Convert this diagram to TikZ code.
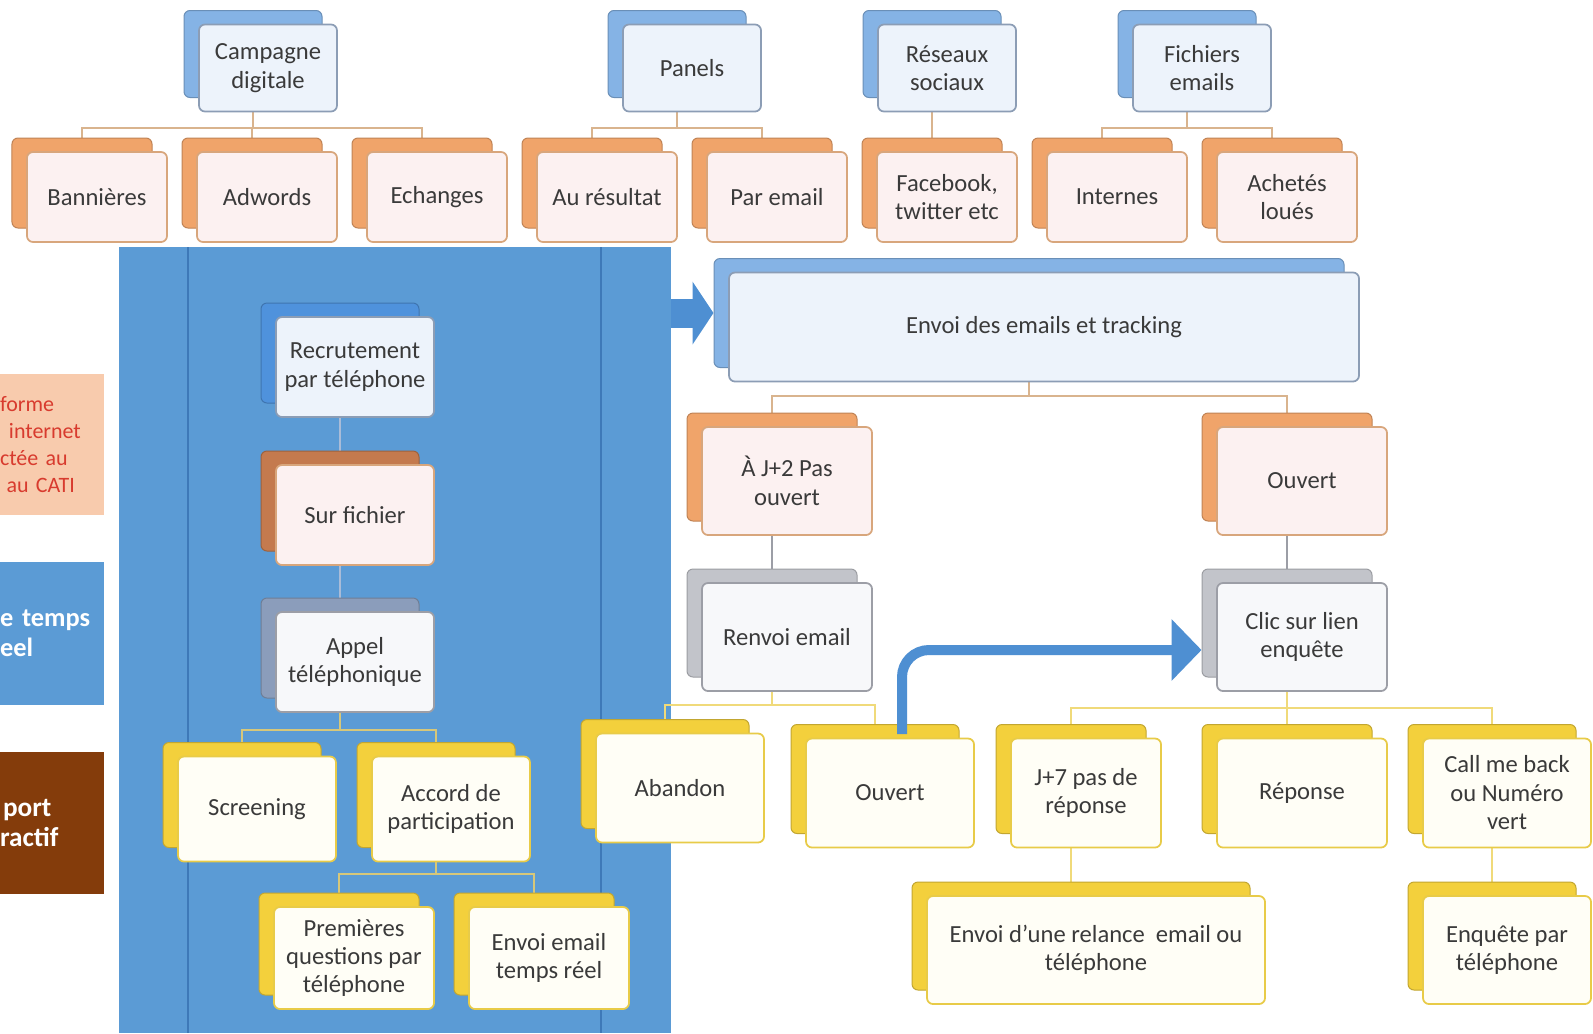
\documentclass[tikz,border=0pt]{standalone}
\usepackage{fontspec}
\setmainfont{Carlito}
\usetikzlibrary{arrows.meta}

\definecolor{txt}{HTML}{3A3A3A}
\definecolor{bluebk}{HTML}{85B3E5}
\definecolor{orbk}{HTML}{F0A46A}
\definecolor{graybk}{HTML}{C2C4CA}
\definecolor{yelbk}{HTML}{F3D03C}
\definecolor{recbk}{HTML}{4F92DC}
\definecolor{surbk}{HTML}{C47A4E}
\definecolor{appbk}{HTML}{8B9DBB}
\definecolor{blfr}{HTML}{EDF3FB}
\definecolor{blln}{HTML}{8C9DB5}
\definecolor{orfr}{HTML}{FCF1F1}
\definecolor{orln}{HTML}{D8A67C}
\definecolor{grfr}{HTML}{F7F8FA}
\definecolor{grln}{HTML}{9C9EA6}
\definecolor{yefr}{HTML}{FFFEF6}
\definecolor{yeln}{HTML}{E8CB48}
\definecolor{tanln}{HTML}{D9B48E}
\definecolor{yelln}{HTML}{F0DA7A}
\definecolor{pnlln}{HTML}{A9BCD8}
\definecolor{pnlyel}{HTML}{D6C77A}
\definecolor{panelblue}{HTML}{5B9BD5}
\definecolor{paneldark}{HTML}{3E79B8}
\definecolor{arrblue}{HTML}{4E8FD2}
\definecolor{peach}{HTML}{F8CBAD}
\definecolor{legred}{HTML}{D83B2E}
\definecolor{legbrown}{HTML}{843C0B}

\pgfdeclarelayer{bg}
\pgfdeclarelayer{lines}
\pgfsetlayers{bg,lines,main}

\begin{document}
\begin{tikzpicture}[x=0.2mm,y=-0.2mm,
  box/.style={rounded corners=1.2mm,align=center,inner sep=0.8mm,text=txt,font=\fontsize{14}{16.2}\selectfont},
  wh/.style 2 args={minimum width=#1,minimum height=#2},
  back/.style={box,fill=#1,draw=#1!80!black,line width=0.2mm},
  blfront/.style={box,fill=blfr,draw=blln,line width=0.35mm},
  orfront/.style={box,fill=orfr,draw=orln,line width=0.35mm},
  grfront/.style={box,fill=grfr,draw=grln,line width=0.35mm},
  yefront/.style={box,fill=yefr,draw=yeln,line width=0.35mm},
  link/.style={draw=#1,line width=0.4mm},
  legend/.style={text width=20.8mm,inner xsep=0mm,align=left,anchor=west}]

\useasboundingbox (0,0) rectangle (1593,1033);

\begin{pgfonlayer}{bg}
\fill[white] (0,0) rectangle (1593,1033);
\node[fill=panelblue,minimum width=110.4mm,minimum height=157.2mm,inner sep=0] (panel) at (395,640) {};
\coordinate (pl1) at (188,247);
\coordinate (pl2) at (601,247);
\draw[paneldark,line width=0.25mm] (pl1) -- (pl1 |- panel.south) (pl2) -- (pl2 |- panel.south);
\end{pgfonlayer}

\node[fill=peach,minimum width=20.8mm,minimum height=28.2mm,inner sep=0] (leg1) at (52,444.5) {};
\node[legend,text=legred,font=\fontsize{12.5}{15.3}\selectfont] (leg1t) at (leg1.west) {forme\\\hspace*{1.8mm}internet\\ctée au\\\hspace*{1.3mm}au CATI};
\node[fill=panelblue,minimum width=20.8mm,minimum height=28.6mm,inner sep=0] (leg2) at (52,633.5) {};
\node[legend,text=white,font=\fontsize{15}{17}\selectfont\bfseries] (leg2t) at (leg2.west) {e temps\\eel};
\node[fill=legbrown,minimum width=20.8mm,minimum height=28.4mm,inner sep=0] (leg3) at (52,823) {};
\node[legend,text=white,font=\fontsize{15.5}{17.5}\selectfont\bfseries] (leg3t) at (leg3.west) {\hspace*{0.6mm}port\\ractif};

\node[back=bluebk,wh={27.6mm}{17.4mm}] (camp-b) at (253,54) {};
\node[blfront,wh={27.6mm}{17.4mm}] (camp) at ([shift={(15,14)}]camp-b) {Campagne\\digitale};
\node[back=bluebk,wh={27.6mm}{17.4mm}] (pane-b) at (677,54) {};
\node[blfront,wh={27.6mm}{17.4mm}] (pane) at ([shift={(15,14)}]pane-b) {Panels};
\node[back=bluebk,wh={27.6mm}{17.4mm}] (rese-b) at (932,54) {};
\node[blfront,wh={27.6mm}{17.4mm}] (rese) at ([shift={(15,14)}]rese-b) {Réseaux\\sociaux};
\node[back=bluebk,wh={27.6mm}{17.4mm}] (fich-b) at (1187,54) {};
\node[blfront,wh={27.6mm}{17.4mm}] (fich) at ([shift={(15,14)}]fich-b) {Fichiers\\emails};

\node[back=orbk,wh={28mm}{18mm}] (bann-b) at (82,183) {};
\node[orfront,wh={28mm}{18mm}] (bann) at ([shift={(15,14)}]bann-b) {Bannières};
\node[back=orbk,wh={28mm}{18mm}] (adwo-b) at (252,183) {};
\node[orfront,wh={28mm}{18mm}] (adwo) at ([shift={(15,14)}]adwo-b) {Adwords};
\node[back=orbk,wh={28mm}{18mm}] (echa-b) at (422,183) {};
\node[orfront,wh={28mm}{18mm}] (echa) at ([shift={(15,14)}]echa-b) {Echanges};
\node[back=orbk,wh={28mm}{18mm}] (resu-b) at (592,183) {};
\node[orfront,wh={28mm}{18mm}] (resu) at ([shift={(15,14)}]resu-b) {Au résultat};
\node[back=orbk,wh={28mm}{18mm}] (pmai-b) at (762,183) {};
\node[orfront,wh={28mm}{18mm}] (pmai) at ([shift={(15,14)}]pmai-b) {Par email};
\node[back=orbk,wh={28mm}{18mm}] (face-b) at (932,183) {};
\node[orfront,wh={28mm}{18mm}] (face) at ([shift={(15,14)}]face-b) {Facebook,\\twitter etc};
\node[back=orbk,wh={28mm}{18mm}] (inte-b) at (1102,183) {};
\node[orfront,wh={28mm}{18mm}] (inte) at ([shift={(15,14)}]inte-b) {Internes};
\node[back=orbk,wh={28mm}{18mm}] (ache-b) at (1272,183) {};
\node[orfront,wh={28mm}{18mm}] (ache) at ([shift={(15,14)}]ache-b) {Achetés\\loués};

\node[back=recbk,wh={31.6mm}{20mm}] (recr-b) at (340,353) {};
\node[blfront,wh={31.6mm}{20mm}] (recr) at ([shift={(15,14)}]recr-b) {Recrutement\\par téléphone};
\node[back=surbk,wh={31.6mm}{20mm}] (surf-b) at (340,501) {};
\node[orfront,wh={31.6mm}{20mm}] (surf) at ([shift={(15,14)}]surf-b) {Sur fichier};
\node[back=appbk,wh={31.6mm}{20mm}] (appe-b) at (340,648) {};
\node[grfront,wh={31.6mm}{20mm}] (appe) at ([shift={(15,14)}]appe-b) {Appel\\téléphonique};
\node[back=yelbk,wh={31.6mm}{21mm}] (scre-b) at (242,795) {};
\node[yefront,wh={31.6mm}{21mm}] (scre) at ([shift={(15,14)}]scre-b) {Screening};
\node[back=yelbk,wh={31.6mm}{21mm}] (acco-b) at (436,795) {};
\node[yefront,wh={31.6mm}{21mm}] (acco) at ([shift={(15,14)}]acco-b) {Accord de\\participation};
\node[back=yelbk,wh={32mm}{20.4mm}] (prem-b) at (339,944) {};
\node[yefront,wh={32mm}{20.4mm}] (prem) at ([shift={(15,14)}]prem-b) {Premières\\questions par\\téléphone};
\node[back=yelbk,wh={32mm}{20.4mm}] (emtr-b) at (534,944) {};
\node[yefront,wh={32mm}{20.4mm}] (emtr) at ([shift={(15,14)}]emtr-b) {Envoi email\\temps réel};

\node[back=bluebk,wh={126mm}{21.8mm}] (envo-b) at (1029,313) {};
\node[blfront,wh={126mm}{21.8mm}] (envo) at ([shift={(15,14)}]envo-b) {Envoi des emails et tracking};
\node[back=orbk,wh={34mm}{21.6mm}] (j2-b) at (772,467) {};
\node[orfront,wh={34mm}{21.6mm}] (j2) at ([shift={(15,14)}]j2-b) {À J+2 Pas\\ouvert};
\node[back=orbk,wh={34mm}{21.6mm}] (ouv1-b) at (1287,467) {};
\node[orfront,wh={34mm}{21.6mm}] (ouv1) at ([shift={(15,14)}]ouv1-b) {Ouvert};
\node[back=graybk,wh={34mm}{21.6mm}] (renv-b) at (772,623) {};
\node[grfront,wh={34mm}{21.6mm}] (renv) at ([shift={(15,14)}]renv-b) {Renvoi email};
\node[back=graybk,wh={34mm}{21.6mm}] (clic-b) at (1287,623) {};
\node[grfront,wh={34mm}{21.6mm}] (clic) at ([shift={(15,14)}]clic-b) {Clic sur lien\\enquête};

\node[back=yelbk,wh={33.6mm}{21.8mm}] (aban-b) at (665,774) {};
\node[yefront,wh={33.6mm}{21.8mm}] (aban) at ([shift={(15,14)}]aban-b) {Abandon};
\node[back=yelbk,wh={33.6mm}{21.8mm}] (ouv2-b) at (875,779) {};
\node[yefront,wh={33.6mm}{21.8mm}] (ouv2) at ([shift={(15,14)}]ouv2-b) {Ouvert};
\node[back=yelbk,wh={30mm}{21.8mm}] (j7-b) at (1071,779) {};
\node[yefront,wh={30mm}{21.8mm}] (j7) at ([shift={(15,14)}]j7-b) {J+7 pas de\\réponse};
\node[back=yelbk,wh={34mm}{21.8mm}] (repo-b) at (1287,779) {};
\node[yefront,wh={34mm}{21.8mm}] (repo) at ([shift={(15,14)}]repo-b) {Réponse};
\node[back=yelbk,wh={33.6mm}{21.8mm}] (call-b) at (1492,779) {};
\node[yefront,wh={33.6mm}{21.8mm}] (call) at ([shift={(15,14)}]call-b) {Call me back\\ou Numéro\\vert};
\node[back=yelbk,wh={67.6mm}{21.6mm}] (relc-b) at (1081,936) {};
\node[yefront,wh={67.6mm}{21.6mm}] (relc) at ([shift={(15,14)}]relc-b) {Envoi d’une relance \ email ou\\téléphone};
\node[back=yelbk,wh={33.6mm}{21.6mm}] (enqu-b) at (1492,936) {};
\node[yefront,wh={33.6mm}{21.6mm}] (enqu) at ([shift={(15,14)}]enqu-b) {Enquête par\\téléphone};

\begin{pgfonlayer}{lines}
\draw[link=tanln] (camp-b.south) -- ++(0,30) -| (bann-b.north);
\draw[link=tanln] (camp-b.south) -- ++(0,30) -| (adwo-b.north);
\draw[link=tanln] (camp-b.south) -- ++(0,30) -| (echa-b.north);
\draw[link=tanln] (pane-b.south) -- ++(0,30) -| (resu-b.north);
\draw[link=tanln] (pane-b.south) -- ++(0,30) -| (pmai-b.north);
\draw[link=tanln] (rese-b.south) -- (face-b.north);
\draw[link=tanln] (fich-b.south) -- ++(0,30) -| (inte-b.north);
\draw[link=tanln] (fich-b.south) -- ++(0,30) -| (ache-b.north);
\draw[link=pnlln] (recr-b.south) -- (surf-b.north);
\draw[link=pnlln] (surf-b.south) -- (appe-b.north);
\draw[link=pnlyel] (appe-b.south) -- ++(0,31) -| (scre-b.north);
\draw[link=pnlyel] (appe-b.south) -- ++(0,31) -| (acco-b.north);
\draw[link=pnlyel] (acco-b.south) -- ++(0,26) -| (prem-b.north);
\draw[link=pnlyel] (acco-b.south) -- ++(0,26) -| (emtr-b.north);
\draw[link=tanln] (envo-b.south) -- ++(0,28) -| (j2-b.north);
\draw[link=tanln] (envo-b.south) -- ++(0,28) -| (ouv1-b.north);
\draw[link=grln] (j2-b.south) -- (renv-b.north);
\draw[link=grln] (ouv1-b.south) -- (clic-b.north);
\draw[link=yelln] (renv-b.south) -- ++(0,27) -| (aban-b.north);
\draw[link=yelln] (renv-b.south) -- ++(0,27) -| (ouv2-b.north);
\draw[link=yelln] (clic-b.south) -- ++(0,30) -| (j7-b.north);
\draw[link=yelln] (clic-b.south) -- ++(0,30) -| (repo-b.north);
\draw[link=yelln] (clic-b.south) -- ++(0,30) -| (call-b.north);
\draw[link=yelln] (j7-b.south) -- (j7-b.south |- relc-b.north);
\draw[link=yelln] (call-b.south) -- (enqu-b.north);
\end{pgfonlayer}

\draw[arrblue,line width=5.8mm,-{Triangle[width=12.4mm,length=4.2mm]}] (panel.east |- envo-b.west) -- (envo-b.west);
\draw[arrblue,line width=2mm,rounded corners=5.4mm,-{Triangle[width=12mm,length=6mm]}] ([shift={(27,10)}]ouv2-b.north) |- ([shift={(0,27)}]clic-b.west);
\end{tikzpicture}
\end{document}
